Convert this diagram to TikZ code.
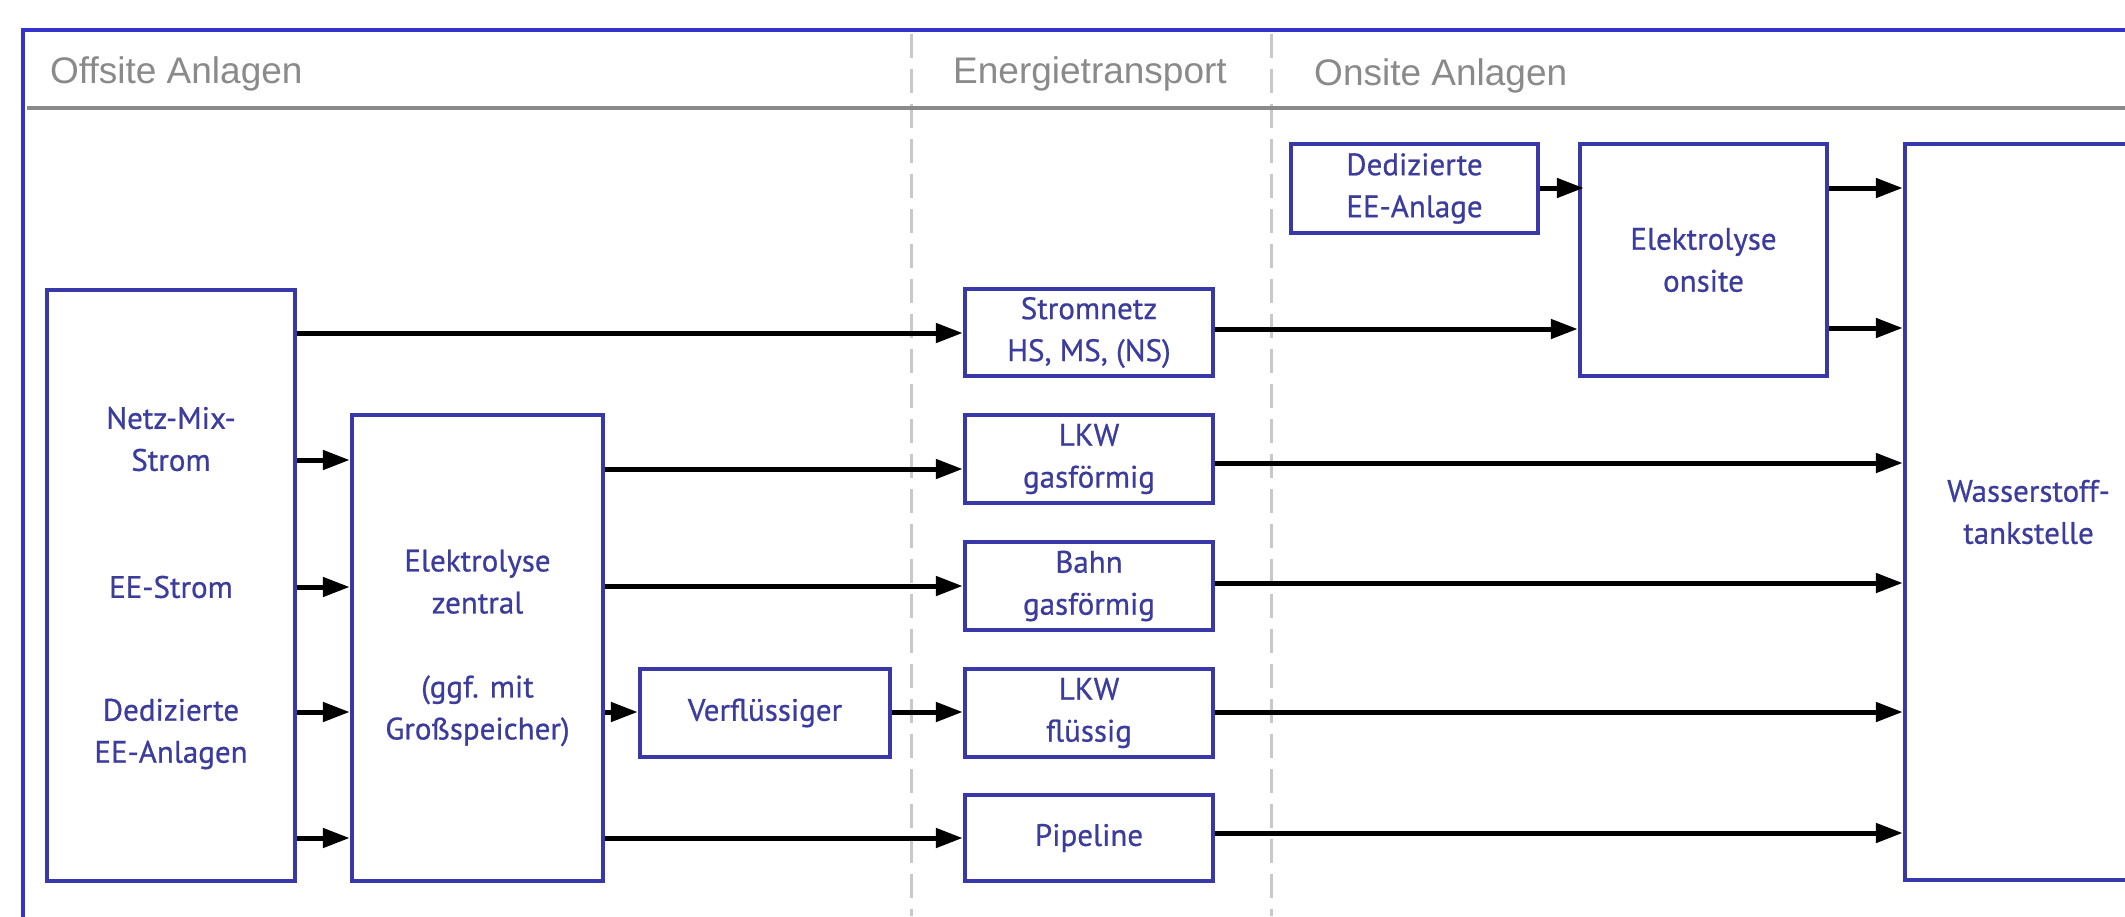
\documentclass[tikz,border=0pt]{standalone}
\usepackage{fontspec}
\setmainfont{PT Sans}
\newfontfamily\boxfont{PT Sans}[FakeBold=0.7]
\newfontfamily\hdrfont{Liberation Sans}
\usetikzlibrary{arrows.meta}
\definecolor{boxblue}{HTML}{3838A8}
\definecolor{frameblue}{HTML}{3434CC}
\definecolor{txtblue}{HTML}{3C3C9C}
\definecolor{hdrgray}{HTML}{8A8A8A}
\definecolor{dashgray}{HTML}{C8C8C8}
\begin{document}
\begin{tikzpicture}[x=1pt,y=-1pt,
 box/.style={draw=boxblue, line width=4.5pt, fill=white, inner sep=0pt, align=center, text=txtblue, font=\boxfont\fontsize{31}{42}\selectfont},
 lbl/.style={inner sep=0pt, align=center, text=txtblue, font=\boxfont\fontsize{31}{42}\selectfont},
 arr/.style={draw=black, line width=5pt, -{Triangle[length=27pt,width=19pt]}},
 hdr/.style={anchor=base west, inner sep=0pt, text=hdrgray, font=\hdrfont\fontsize{37}{44}\selectfont},
 sepline/.style={draw=dashgray, line width=3pt, dash pattern=on 24pt off 11pt}]
\useasboundingbox (0,0) rectangle (2125,916);
\clip (0,0) rectangle (2125,916);
\fill[white] (0,0) rectangle (2125,916);
% frame
\draw[frameblue, line width=4pt] (23,30) rectangle (2300,1000);
% separators
\coordinate (s1t) at (911,34);
\coordinate (s1b) at (911,916);
\coordinate (s2t) at (1271,34);
\coordinate (s2b) at (1271,916);
\draw[sepline] (s1t) -- (s1b);
\draw[sepline] (s2t) -- (s2b);
% header
\coordinate (hl) at (27,108);
\coordinate (hr) at (2125,108);
\draw[hdrgray, line width=3.5pt] (hl) -- (hr);
\node[hdr] (h1) at (50,83) {Offsite Anlagen};
\node[hdr] (h2) at (953,83) {Energietransport};
\node[hdr] (h3) at (1314,85) {Onsite Anlagen};
% boxes
\node[box, minimum width=248pt, minimum height=591pt] (src) at (171,585.5) {};
\node[lbl] (srcA) at (171,439) {Netz-Mix-\\Strom};
\node[lbl] (srcB) at (171,587) {EE-Strom};
\node[lbl] (srcC) at (171,734) {Dedizierte\\EE-Anlagen};
\node[box, minimum width=251pt, minimum height=466pt] (ez) at (477.5,648) {Elektrolyse\\zentral\\[42pt](ggf. mit\\Großspeicher)};
\node[box, minimum width=250pt, minimum height=88pt] (verf) at (765,713) {Verflüssiger};
\node[box, minimum width=248pt, minimum height=87pt] (strom) at (1089,332.5) {Stromnetz\\HS, MS, (NS)};
\node[box, minimum width=248pt, minimum height=88pt] (lkwg) at (1089,459) {LKW\\gasförmig};
\node[box, minimum width=248pt, minimum height=88pt] (bahn) at (1089,586) {Bahn\\gasförmig};
\node[box, minimum width=248pt, minimum height=88pt] (lkwf) at (1089,713) {LKW\\flüssig};
\node[box, minimum width=248pt, minimum height=86pt] (pipe) at (1089,838) {Pipeline};
\node[box, minimum width=247pt, minimum height=89pt] (ded) at (1414.5,188.5) {Dedizierte\\EE-Anlage};
\node[box, minimum width=247pt, minimum height=232pt] (eo) at (1703.5,260) {Elektrolyse\\onsite};
\node[box, minimum width=247pt, minimum height=736pt] (w) at (2028.5,512) {Wasserstoff-\\tankstelle};
% arrows
\draw[arr] (src.east |- 0,333) -- (strom.west |- 0,333);
\draw[arr] (src.east |- 0,460) -- (ez.west |- 0,460);
\draw[arr] (src.east |- 0,587) -- (ez.west |- 0,587);
\draw[arr] (src.east |- 0,712) -- (ez.west |- 0,712);
\draw[arr] (src.east |- 0,838) -- (ez.west |- 0,838);
\draw[arr] (ez.east |- 0,469) -- (lkwg.west |- 0,469);
\draw[arr] (ez.east |- 0,586) -- (bahn.west |- 0,586);
\draw[arr] (ez.east |- 0,712) -- (verf.west |- 0,712);
\draw[arr] (verf.east |- 0,712) -- (lkwf.west |- 0,712);
\draw[arr] (ez.east |- 0,838) -- (pipe.west |- 0,838);
\draw[arr] (strom.east |- 0,329) -- (eo.west |- 0,329);
\draw[arr] (ded.east |- 0,188) -- ([xshift=6pt]eo.west |- 0,188);
\draw[arr] (eo.east |- 0,188) -- (w.west |- 0,188);
\draw[arr] (eo.east |- 0,328) -- (w.west |- 0,328);
\draw[arr] (lkwg.east |- 0,463) -- (w.west |- 0,463);
\draw[arr] (bahn.east |- 0,583) -- (w.west |- 0,583);
\draw[arr] (lkwf.east |- 0,712) -- (w.west |- 0,712);
\draw[arr] (pipe.east |- 0,833) -- (w.west |- 0,833);
\end{tikzpicture}
\end{document}
